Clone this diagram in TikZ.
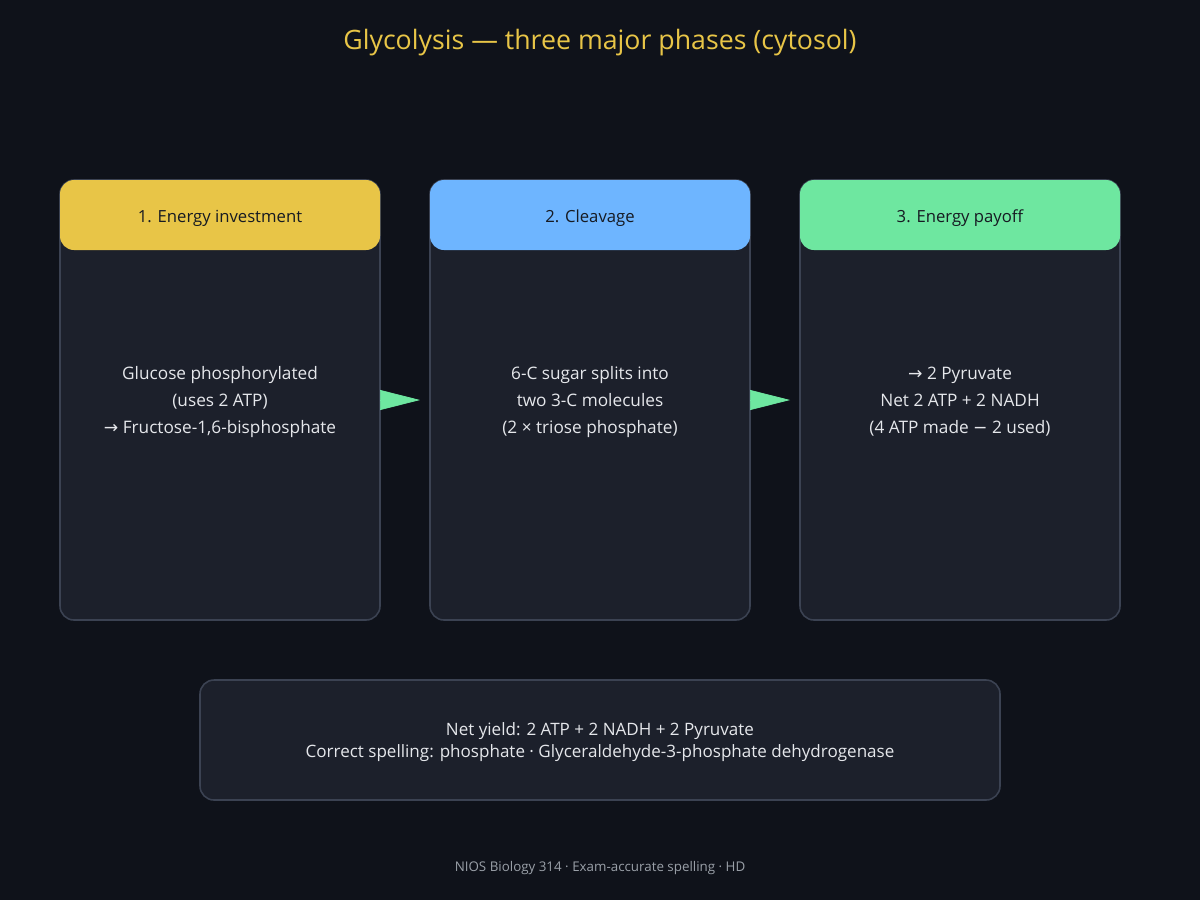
\documentclass[tikz,border=0pt]{standalone}
\usepackage{fontspec}
\setmainfont{Open Sans}
\newfontfamily\symfont{DejaVu Sans}
\usetikzlibrary{arrows.meta}
\definecolor{bg}{HTML}{0F121A}
\definecolor{panel}{HTML}{1C202B}
\definecolor{rim}{HTML}{3B4252}
\definecolor{gold}{HTML}{E8C547}
\definecolor{sky}{HTML}{6EB5FF}
\definecolor{mint}{HTML}{6EE7A0}
\definecolor{ink}{HTML}{E5E7EB}
\definecolor{darkink}{HTML}{161A22}
\definecolor{muted}{HTML}{9AA0A8}
\newcommand{\arr}{{\symfont →}}
\tikzset{
  {phase body/.style}={rectangle, rounded corners=0.28cm, draw=rim,
                line width=0.9pt, fill=panel, outer sep=0,
                minimum width=6.4cm, minimum height=8.8cm,
                text=ink, align=center, text depth=0pt,
                font=\fontsize{9.8}{15.3}\selectfont},
  {phase head/.style}={rectangle, rounded corners=0.28cm, outer sep=0,
                minimum width=6.4cm, minimum height=1.4cm,
                text height=11pt, text depth=2.5pt,
                text=darkink, font=\fontsize{9.5}{12}\selectfont},
  {summary box/.style}={phase body, minimum width=16cm,
                minimum height=2.4cm,
                font=\fontsize{9.7}{13}\selectfont},
  {step arrow/.style}={draw=mint, line width=0.4pt,
                -{Triangle[length=0.8cm,width=0.4cm,fill=mint]}},
}
\begin{document}
\begin{tikzpicture}
    \fill[bg] (0,0) rectangle (24,-18);
    \node[text=gold,font=\fontsize{15.2}{17}\selectfont] (title) at (12,-0.86)
      {Glycolysis — three major phases (cytosol)};
    % the three phases
    \node[phase body] (invest) at (4.4,-8) {Glucose phosphorylated\\
      (uses 2 ATP)\\ \arr{} Fructose-1,6-bisphosphate};
    \node[phase head,fill=gold] (investhead) at (4.4,-4.3)
      {1. Energy investment};
    \node[phase body] (cleave) at (11.8,-8) {6-C sugar splits into\\
      two 3-C molecules\\ (2 × triose phosphate)};
    \node[phase head,fill=sky] (cleavehead) at (11.8,-4.3) {2. Cleavage};
    \node[phase body] (payoff) at (19.2,-8) {\arr{} 2 Pyruvate\\
      Net 2 ATP + 2 NADH\\ (4 ATP made {\symfont −} 2 used)};
    \node[phase head,fill=mint] (payoffhead) at (19.2,-4.3)
      {3. Energy payoff};
    \draw[step arrow] (invest.east) -- ([xshift=-0.2cm]cleave.west);
    \draw[step arrow] (cleave.east) -- ([xshift=-0.2cm]payoff.west);
    % summary and footer
    \node[summary box] (yield) at (12,-14.8)
      {Net yield: 2 ATP + 2 NADH + 2 Pyruvate\\
      Correct spelling: phosphate · Glyceraldehyde-3-phosphate dehydrogenase};
    \node[text=muted,font=\fontsize{7.6}{9}\selectfont] (footer) at (12,-17.36)
      {NIOS Biology 314 · Exam-accurate spelling · HD};
\end{tikzpicture}
\end{document}
